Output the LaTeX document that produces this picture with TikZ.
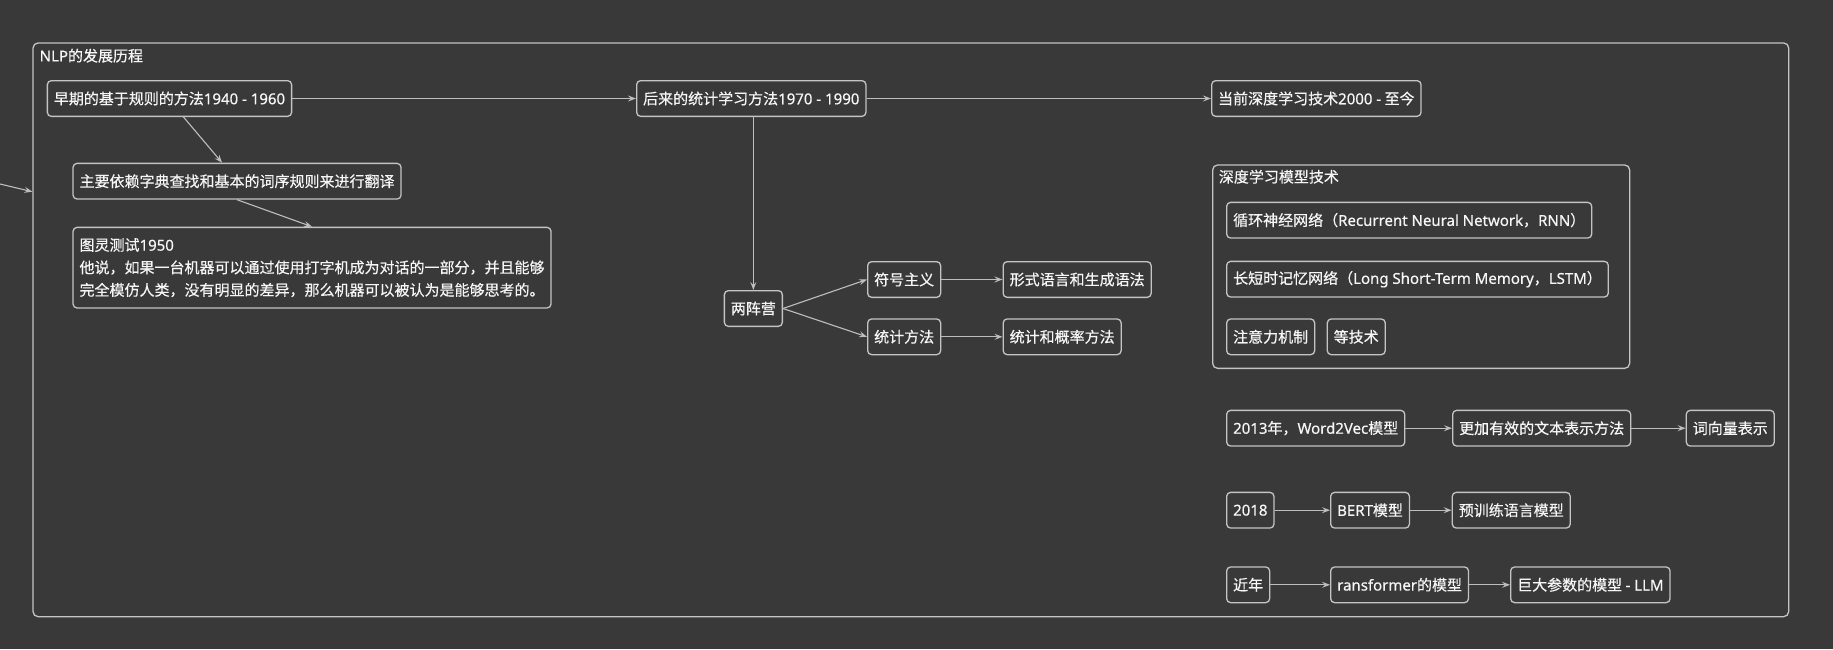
\documentclass[tikz,border=0pt]{standalone}
\usepackage{fontspec}
\setmainfont{Noto Sans CJK SC}[FakeBold=0.45]
\newfontfamily\lat{Noto Sans}[FakeBold=0.45]
\newcommand{\la}[1]{{\lat #1}}
\usetikzlibrary{arrows.meta,calc}
\definecolor{bg}{HTML}{393939}
\definecolor{edgec}{HTML}{BEBEBE}
\definecolor{boxline}{HTML}{C4C4C4}
\definecolor{txt}{HTML}{F6F6F6}
\tikzset{
 box/.style={draw=boxline, line width=1.3pt, rounded corners=4pt, text=txt,
   font=\fontsize{15}{18}\selectfont, inner xsep=6.5pt, inner ysep=0pt,
   minimum height=35.7pt, anchor=north west},
 arr/.style={draw=edgec, line width=1.1pt, -{Stealth[length=8pt,width=6pt,inset=3pt]}},
 grp/.style={draw=boxline, line width=1.3pt, rounded corners=5pt, anchor=north west, inner sep=0pt},
 ttl/.style={text=txt, font=\fontsize{15}{18}\selectfont, anchor=west, inner sep=0pt},
}
\begin{document}
\begin{tikzpicture}[x=1pt,y=-1pt]
\path[use as bounding box, fill=bg] (0,0) rectangle (1833,649);

% frames
\node[grp, minimum width=1755.6pt, minimum height=573.7pt] (nlp) at (32.4,42.3) {};
\node[ttl] (nlptitle) at (39.5,55.7) {\la{NLP}的发展历程};
\node[grp, minimum width=417pt, minimum height=203.4pt] (dl) at (1212,164.3) {};
\node[ttl] (dltitle) at (1218.7,176.7) {深度学习模型技术};

% left column
\node[box] (A) at (46.7,80) {早期的基于规则的方法\la{1940 - 1960}};
\node[box] (B) at (72.4,162.7) {主要依赖字典查找和基本的词序规则来进行翻译};
\node[box, align=left, minimum height=80.6pt, font=\fontsize{15}{22.5}\selectfont] (C) at (72.4,226.7)
  {图灵测试\la{1950}\\他说，如果一台机器可以通过使用打字机成为对话的一部分，并且能够\\完全模仿人类，没有明显的差异，那么机器可以被认为是能够思考的。};

% middle
\node[box] (D) at (636,80) {后来的统计学习方法\la{1970 - 1990}};
\node[box] (camp) at (723.7,290) {两阵营};
\node[box] (sym) at (867,261) {符号主义};
\node[box] (formal) at (1002.5,261) {形式语言和生成语法};
\node[box] (stat) at (867,318.3) {统计方法};
\node[box] (prob) at (1002.5,318.3) {统计和概率方法};

% right
\node[box] (E) at (1211,80) {当前深度学习技术\la{2000 -} 至今};
\node[box] (rnn) at (1226,201.7) {循环神经网络（\la{Recurrent Neural Network}，\la{RNN}）};
\node[box] (lstm) at (1226,260.7) {长短时记忆网络（\la{Long Short-Term Memory}，\la{LSTM}）};
\node[box] (attn) at (1226,318.3) {注意力机制};
\node[box] (etc) at (1326.6,318.3) {等技术};

\node[box] (w2v) at (1226,409.7) {\la{2013}年，\la{Word2Vec}模型};
\node[box] (eff) at (1452,409.7) {更加有效的文本表示方法};
\node[box] (wv) at (1685.6,409.7) {词向量表示};
\node[box] (y18) at (1226,491.7) {\la{2018}};
\node[box] (bert) at (1330,491.7) {\la{BERT}模型};
\node[box] (pre) at (1451.6,491.7) {预训练语言模型};
\node[box] (recent) at (1226,566.3) {近年};
\node[box] (trans) at (1330,566.3) {\la{ransformer}的模型};
\node[box] (llm) at (1510,566.3) {巨大参数的模型 \la{- LLM}};

% connectors
\coordinate (src) at (0,184);
\coordinate (hit) at (32.4,191.7);
\draw[arr] (src) -- (hit);
\draw[arr] (A.east) -- (D.west);
\draw[arr] (D.east) -- (E.west);
\draw[arr] ([xshift=14pt]A.south) -- ([xshift=-15pt]B.north);
\draw[arr] (B.south) -- (C.north);
\draw[arr] (camp.north |- D.south) -- (camp.north);
\draw[arr] (camp.east) -- (sym.west);
\draw[arr] (camp.east) -- (stat.west);
\draw[arr] (sym.east) -- (formal.west);
\draw[arr] (stat.east) -- (prob.west);
\draw[arr] (w2v.east) -- (eff.west);
\draw[arr] (eff.east) -- (wv.west);
\draw[arr] (y18.east) -- (bert.west);
\draw[arr] (bert.east) -- (pre.west);
\draw[arr] (recent.east) -- (trans.west);
\draw[arr] (trans.east) -- (llm.west);
\end{tikzpicture}
\end{document}
